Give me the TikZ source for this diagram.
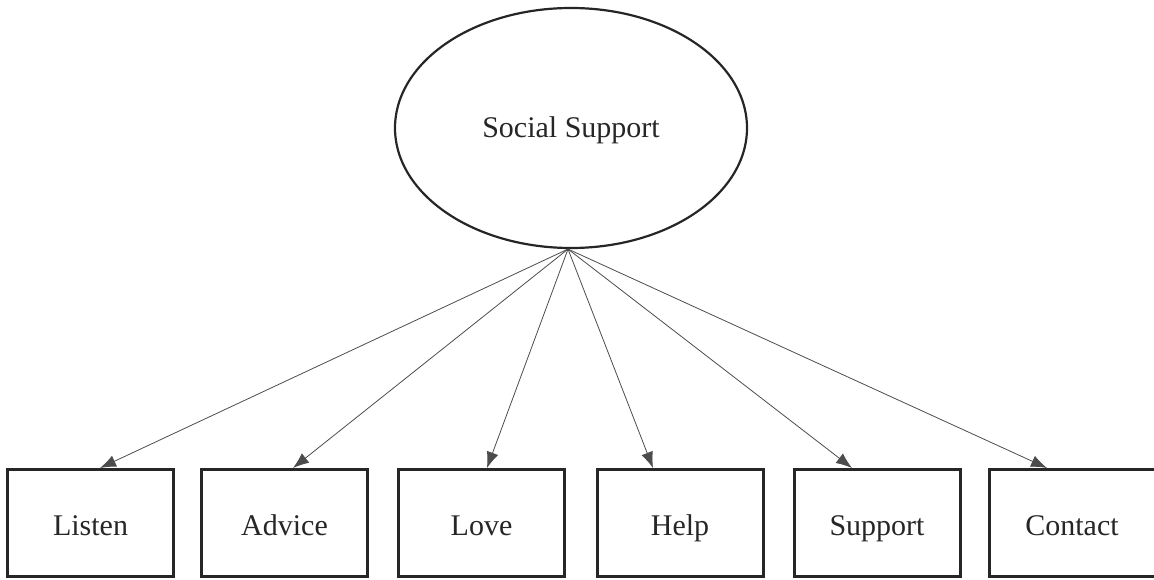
\documentclass[tikz,border=0pt]{standalone}
\usepackage{fontspec}
\setmainfont{Liberation Serif}
\usetikzlibrary{shapes.geometric,arrows.meta}
\begin{document}
\begin{tikzpicture}[x=1pt,y=-1pt,
  latent/.style={ellipse,draw=black!85,line width=2.2pt,minimum width=352pt,minimum height=240pt,inner sep=0pt,font=\fontsize{30}{36}\selectfont,text=black!85,text height=20pt,text depth=0pt},
  obs/.style={rectangle,draw=black!85,line width=3pt,minimum width=166pt,minimum height=107pt,inner sep=0pt,font=\fontsize{30}{36}\selectfont,text=black!85,text height=24pt,text depth=0pt},
  load/.style={draw=black!70,line width=0.8pt,-{Latex[length=16pt,width=12pt]}}]
\useasboundingbox (0,0) rectangle (1154,580);
\node[latent] (ss) at (571,128) {Social Support};
\node[obs] (listen)  at (90.5,523) {Listen};
\node[obs] (advice)  at (284.5,523) {Advice};
\node[obs] (love)    at (481.5,523) {Love};
\node[obs] (help)    at (680,523) {Help};
\node[obs] (support) at (877,523) {Support};
\node[obs] (contact) at (1072,523) {Contact};
\coordinate (src) at ([xshift=-3pt]ss.south);
\draw[load] (src) -- ([xshift=9.5pt]listen.north);
\draw[load] (src) -- ([xshift=8.5pt]advice.north);
\draw[load] (src) -- ([xshift=5.5pt]love.north);
\draw[load] (src) -- ([xshift=-27pt]help.north);
\draw[load] (src) -- ([xshift=-25pt]support.north);
\draw[load] (src) -- ([xshift=-25pt]contact.north);
\end{tikzpicture}
\end{document}
